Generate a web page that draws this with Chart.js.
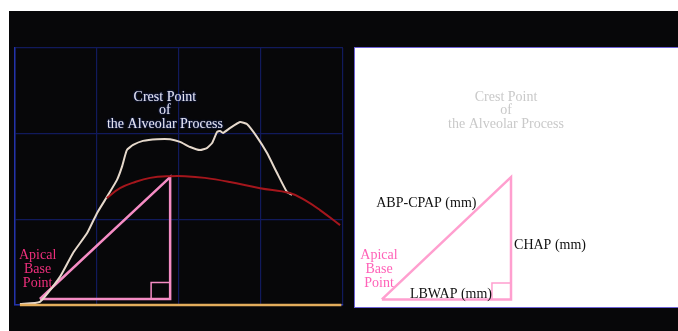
<!DOCTYPE html>
<html>
<head>
<meta charset="utf-8">
<script src="https://cdn.jsdelivr.net/npm/chart.js@4.4.1/dist/chart.umd.min.js"></script>
<style>
  html, body { margin: 0; padding: 0; background: #fff; }
  body { width: 678px; height: 331px; position: relative; overflow: hidden; }
  #dark { position: absolute; left: 9px; top: 11px; width: 669px; height: 320px; background: #070709; }
  #rightPanel { position: absolute; left: 354px; top: 47px; width: 340px; height: 261px; background: #fff;
                border: 1.5px solid #6d62d6; box-sizing: border-box; }
</style>
</head>
<body>
<div id="dark"></div>
<canvas id="leftChart" width="332" height="261" style="position:absolute;left:13px;top:46px;"></canvas>
<div id="rightPanel"></div>
<canvas id="rightChart" width="320" height="259" style="position:absolute;left:355px;top:48px;"></canvas>
<script>
// profil tepi alveolar (garis putih)
const profileX = [1.5, 7.6, 13.7, 17.7, 22.0, 25.0, 28.0, 31.1, 32.6, 34.1, 36.0, 39.0, 43.3, 47.3, 50.3, 53.4, 56.4, 58.5, 60.1, 61.6, 62.5, 63.4, 65.5, 68.6, 70.7, 73.8, 76.8, 79.9, 82.9, 84.5];
const profileY = [0.3, 0.9, 8.2, 15.2, 21.0, 26.8, 31.5, 36.5, 40.3, 45.2, 46.7, 47.9, 48.4, 48.4, 47.6, 46.1, 45.2, 45.8, 47.3, 50.5, 50.8, 50.2, 51.6, 53.4, 52.8, 49.0, 44.4, 38.5, 33.0, 32.1];

// kurva lengkung (garis merah)
const archX = [28.0, 32.0, 36.6, 41.2, 47.3, 51.8, 57.9, 65.5, 74.7, 83.8, 88.4, 93.0, 99.1];
const archY = [31.2, 34.1, 35.9, 37.1, 37.6, 37.6, 37.1, 35.9, 34.1, 32.7, 30.6, 27.7, 23.3];

// garis dasar
const baseX = [1.5, 99.5];
const baseY = [0, 0];

// segitiga kiri + tanda siku
const triX = [7.6, 47.3, 47.3, 7.6];
const triY = [1.75, 37.3, 1.75, 1.75];
const sqX = [41.5, 41.5, 47.3];
const sqY = [1.75, 6.6, 6.6];

// segitiga kanan + tanda siku
const rTriX = [8.4, 48.75, 48.75, 8.4];
const rTriY = [2.2, 37.6, 2.2, 2.2];
const rSqX = [42.8, 42.8, 48.75];
const rSqY = [2.2, 6.95, 6.95];

const crestText = ['Crest Point', 'of', 'the Alveolar Process'];
const apicalText = ['Apical', 'Base', 'Point'];
const sideLabels = ['ABP-CPAP (mm)', 'CHAP (mm)', 'LBWAP (mm)'];

const pts = (xs, ys) => xs.map((v, i) => ({ x: v, y: ys[i] }));

// plugin untuk tulisan di posisi data
function textPlugin(id, items) {
  return {
    id: id,
    afterDatasetsDraw(chart) {
      const { ctx, scales: { x, y } } = chart;
      items.forEach(it => {
        ctx.save();
        ctx.font = it.font;
        ctx.fillStyle = it.color;
        ctx.textAlign = it.align || 'center';
        ctx.textBaseline = 'middle';
        if (it.glow) { ctx.shadowColor = it.glow; ctx.shadowBlur = 2; }
        it.lines.forEach((ln, i) => {
          ctx.fillText(ln, x.getPixelForValue(it.x), y.getPixelForValue(it.y) + i * it.lh);
        });
        ctx.restore();
      });
    }
  };
}

const serif = '"Liberation Serif", "DejaVu Serif", serif';

function lineSet(data, color, width, tension) {
  return { data: data, showLine: true, borderColor: color, borderWidth: width, pointRadius: 0,
           tension: tension || 0, clip: false, fill: false };
}

const leftCtx = document.getElementById('leftChart').getContext('2d');
new Chart(leftCtx, {
  type: 'scatter',
  data: {
    datasets: [
      lineSet(pts(baseX, baseY), '#e3ad5c', 2.5),
      lineSet(pts(archX, archY), '#a4161c', 2, 0.4),
      lineSet(pts(profileX, profileY), '#e6d9cc', 2, 0.15),
      lineSet(pts(triX, triY), '#f58cc4', 2.5),
      lineSet(pts(sqX, sqY), '#f58cc4', 1.5)
    ]
  },
  options: {
    responsive: false,
    animation: false,
    layout: { padding: 2 },
    plugins: { legend: { display: false }, tooltip: { enabled: false } },
    scales: {
      x: {
        type: 'linear', min: 0, max: 100,
        ticks: { display: false, stepSize: 25 },
        grid: { color: '#111a5c', lineWidth: 1.2, drawTicks: false },
        border: { color: '#2333a8', width: 1.5 }
      },
      y: {
        type: 'linear', min: 0, max: 75,
        ticks: { display: false, stepSize: 25 },
        grid: { color: '#111a5c', lineWidth: 1.2, drawTicks: false },
        border: { color: '#2333a8', width: 1.5 }
      }
    }
  },
  plugins: [textPlugin('leftText', [
    { lines: crestText, x: 45.7, y: 60.7, lh: 13.5, font: '14px ' + serif, color: '#e8e6ee', glow: '#2a48c0' },
    { lines: apicalText, x: 6.9, y: 14.6, lh: 14, font: '14px ' + serif, color: '#ee2f7c' }
  ])]
});

const rightCtx = document.getElementById('rightChart').getContext('2d');
new Chart(rightCtx, {
  type: 'scatter',
  data: {
    datasets: [
      lineSet(pts(rTriX, rTriY), '#ff9fcf', 2.5),
      lineSet(pts(rSqX, rSqY), '#ff9fcf', 1.5)
    ]
  },
  options: {
    responsive: false,
    animation: false,
    layout: { padding: 0 },
    plugins: { legend: { display: false }, tooltip: { enabled: false } },
    scales: {
      x: { type: 'linear', min: 0, max: 100, display: false },
      y: { type: 'linear', min: 0, max: 75, display: false }
    }
  },
  plugins: [textPlugin('rightText', [
    { lines: crestText, x: 47.2, y: 60.8, lh: 13.5, font: '14px ' + serif, color: '#c9c9c9' },
    { lines: [sideLabels[0]], x: 22.3, y: 30.1, lh: 0, font: '14px ' + serif, color: '#111' },
    { lines: [sideLabels[1]], x: 49.7, y: 18.0, lh: 0, font: '14px ' + serif, color: '#111', align: 'left' },
    { lines: [sideLabels[2]], x: 30.0, y: 3.8, lh: 0, font: '14px ' + serif, color: '#111' },
    { lines: apicalText, x: 7.5, y: 15.1, lh: 14, font: '14px ' + serif, color: '#ff62b8' }
  ])]
});
</script>
</body>
</html>
